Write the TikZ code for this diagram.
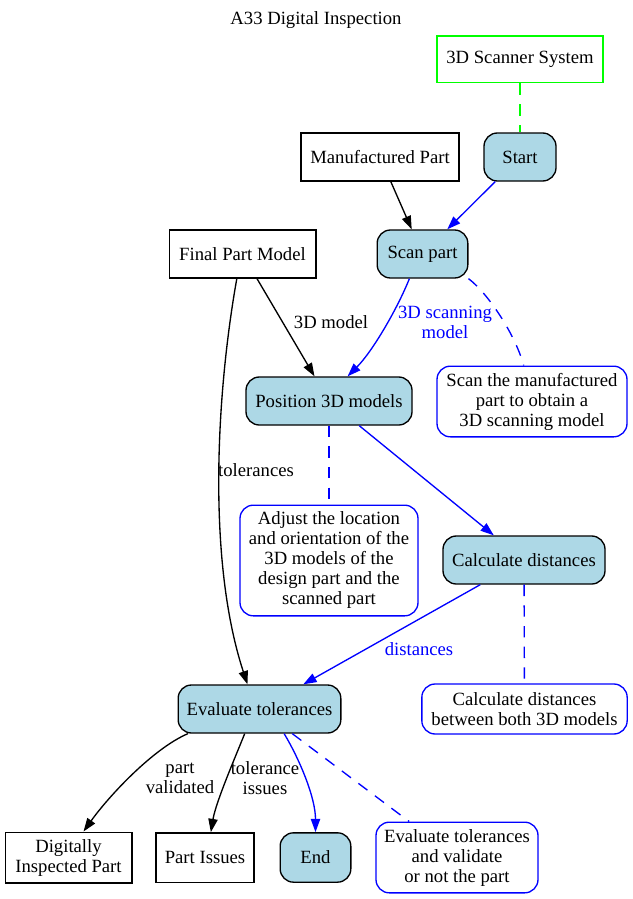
\documentclass[tikz,border=0pt]{standalone}
\usepackage{fontspec}
\setmainfont{Liberation Serif}
\usetikzlibrary{arrows.meta}
\definecolor{procblue}{HTML}{ADD8E6}
\definecolor{scangreen}{HTML}{00FF00}

\begin{document}
\begin{tikzpicture}[x=0.75pt,y=-0.75pt,
	font=\fontsize{14}{15}\selectfont,
	box/.style={draw,line width=1pt,inner sep=0pt,align=center},
	proc/.style={box,rounded corners=10pt,fill=procblue},
	note/.style={box,draw=blue,rounded corners=10pt,fill=white},
	flow/.style={line width=1pt,-{Triangle[length=10pt,width=7pt]}},
	link/.style={line width=1pt,dash pattern=on 8.5pt off 7pt}]

			\useasboundingbox (0,0) rectangle (632,899);

			\node (title) at (316,20) {A33 Digital Inspection};

			\node [box,draw=scangreen,minimum width=124.5pt,minimum height=35pt] (scanner) at (520,59.5) {3D Scanner System};
			\node [box,minimum width=118.5pt,minimum height=36pt] (manpart) at (380,157) {Manufactured Part};
			\node [proc,minimum width=54pt,minimum height=36pt] (start) at (520,157) {Start};
			\node [box,minimum width=110pt,minimum height=36pt] (partmodel) at (242.5,254) {Final Part Model};
			\node [proc,minimum width=68pt,minimum height=36pt] (scan) at (422.5,254) {Scan part};
			\node [proc,minimum width=124.5pt,minimum height=36pt] (pos) at (329,401) {Position 3D models};
			\node [note,minimum width=142.5pt,minimum height=53pt] (scannote) at (532,401.5) {Scan the manufactured\\part to obtain a\\3D scanning model};
			\node [note,minimum width=133.5pt,minimum height=83pt] (posnote) at (329,560.5) {Adjust the location\\and orientation of the\\3D models of the\\design part and the\\scanned part};
			\node [proc,minimum width=121.5pt,minimum height=36pt] (calc) at (524,560) {Calculate distances};
			\node [proc,minimum width=122pt,minimum height=36pt] (eval) at (259.5,709) {Evaluate tolerances};
			\node [note,minimum width=154pt,minimum height=37.5pt] (calcnote) at (524.5,709) {Calculate distances\\between both 3D models};
			\node [box,minimum width=95pt,minimum height=38pt] (inspected) at (68.5,857.5) {Digitally\\Inspected Part};
			\node [box,minimum width=73.5pt,minimum height=37pt] (issues) at (205,857.5) {Part Issues};
			\node [proc,minimum width=53pt,minimum height=37pt] (finish) at (315.5,857.5) {End};
			\node [note,minimum width=121.5pt,minimum height=53pt] (evalnote) at (457,857.5) {Evaluate tolerances\\and validate\\or not the part};

			\draw [link,scangreen] (scanner) -- (start);
			\draw [flow] (manpart) -- (scan);
			\draw [flow,blue] (start) -- (scan);

			\draw [flow] (partmodel) -- (pos);
			\draw [flow] (partmodel.257) .. controls +(-20,112) and +(-41,-125) .. (eval.116);
			\draw [flow,blue] (scan.242) .. controls +(-12,30) and +(25,-25) .. (pos.53);
			\draw [link,blue] (scan.south east) .. controls +(20,15) and +(-8,-30) .. (scannote.103);

			\draw [link,blue] (pos) -- (posnote);
			\draw [flow,blue] (pos) -- (calc);
			\draw [link,blue] (calc) -- (calcnote);
			\draw [flow,blue] (calc) -- (eval);

			\draw [flow] (eval.199) .. controls +(-35,15) and +(25,-35) .. (inspected.60);
			\draw [flow] (eval.239) .. controls +(-10,25) and +(5,-30) .. (issues.77);
			\draw [flow,blue] (eval.315) .. controls +(15,25) and +(0,-35) .. (finish.north);
			\draw [link,blue] (eval) -- (evalnote);

			\node (lmodel) at (331,322) {3D model};
			\node [blue,align=center] (lscan) at (445,322) {3D scanning\\model};
			\node (ltol) at (256,470) {tolerances};
			\node [blue] (ldist) at (419,649) {distances};
			\node [align=center] (lvalid) at (180,778) {part\\validated};
			\node [align=center] (lissues) at (265,778) {tolerance\\issues};
		\end{tikzpicture}
\end{document}
